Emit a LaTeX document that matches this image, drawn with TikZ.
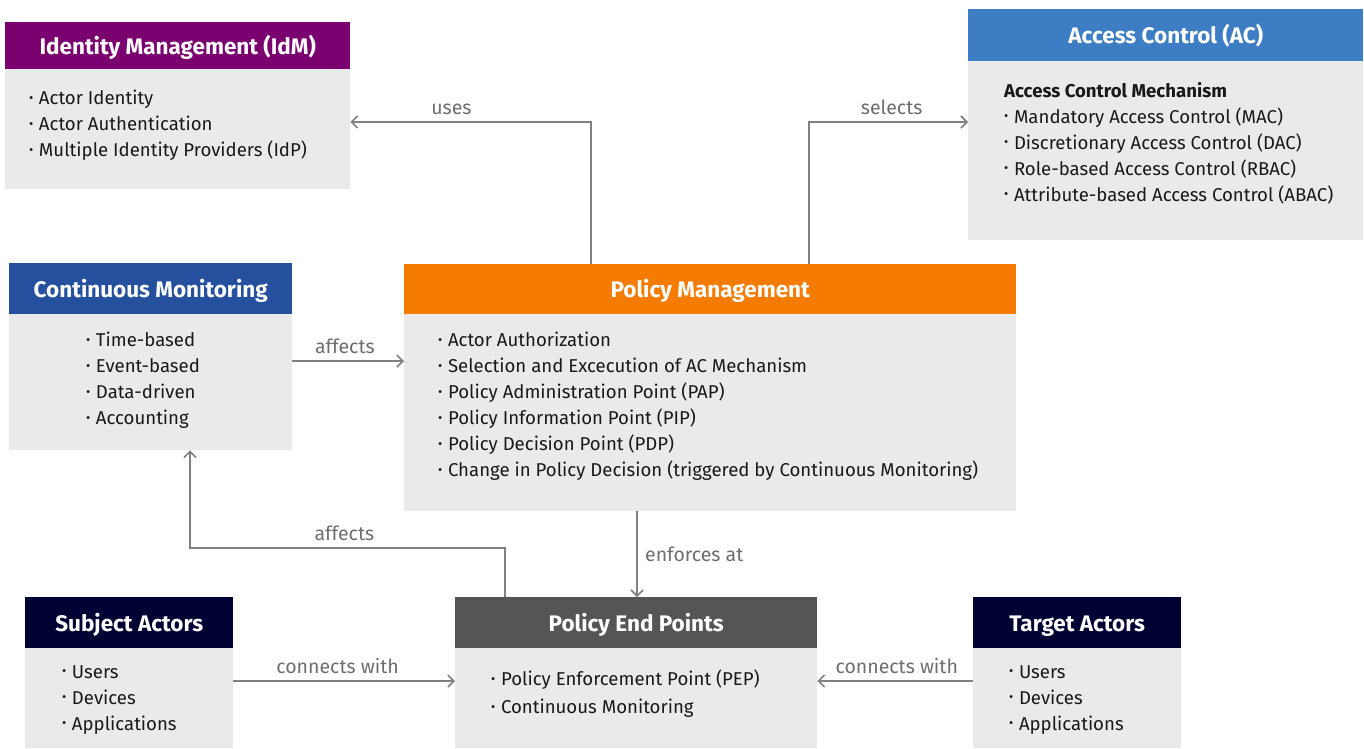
\documentclass[tikz,border=0pt]{standalone}
\usepackage{xcolor}
\usepackage{fontspec}
\setmainfont{Fira Sans}
\usetikzlibrary{arrows.meta, positioning}
\definecolor{idmpurple}{RGB}{122,0,112}
\definecolor{acblue}{RGB}{61,125,196}
\definecolor{cmblue}{RGB}{36,80,158}
\definecolor{pmorange}{RGB}{245,124,0}
\definecolor{actornavy}{RGB}{0,0,51}
\definecolor{pepgray}{RGB}{85,85,85}
\definecolor{boxgray}{RGB}{234,234,234}
\definecolor{linkgray}{RGB}{128,128,128}
\definecolor{taggray}{RGB}{110,110,110}
\newcommand{\itm}{\raisebox{0.25ex}{\scalebox{0.7}{\textbullet}}\hspace{0.3em}}
\tikzset{
    head/.style={rectangle, fill=#1, text=white, anchor=north west, inner sep=0pt, text height=22pt, text depth=5pt, font=\fontsize{22.5}{26}\selectfont\bfseries},
    body/.style={rectangle, fill=boxgray, anchor=north west, inner sep=0pt},
    list/.style={anchor=north west, align=left, inner sep=0pt, text=black!90, font=\fontsize{18.6}{26}\selectfont},
    link/.style={draw=linkgray, line width=1.6pt, -{Straight Barb[length=6pt, width=12pt]}},
    tag/.style={text=taggray, font=\fontsize{19.5}{22}\selectfont}
}
\begin{document}
\begin{tikzpicture}[x=1pt, y=-1pt]
            \useasboundingbox[fill=white] (0,0) rectangle (1364,748);

            % Identity Management
            \node[head=idmpurple, minimum width=345pt, minimum height=47pt] (idmh) at (5,22) {Identity Management (IdM)};
            \node[body, minimum width=345pt, minimum height=120pt] (idm) at (5,69) {};
            \node[list] (idml) at (29,90) {\itm Actor Identity\\ \itm Actor Authentication\\ \itm Multiple Identity Providers (IdP)};

            % Access Control
            \node[head=acblue, minimum width=395pt, minimum height=52pt] (ach) at (968,9) {Access Control (AC)};
            \node[body, minimum width=395pt, minimum height=179pt] (ac) at (968,61) {};
            \node[list] (acl) at (1004,82) {\textbf{Access Control Mechanism}\\ \itm Mandatory Access Control (MAC)\\ \itm Discretionary Access Control (DAC)\\ \itm Role-based Access Control (RBAC)\\ \itm Attribute-based Access Control (ABAC)};

            % Continuous Monitoring
            \node[head=cmblue, minimum width=283pt, minimum height=51pt] (cmh) at (9,263) {Continuous Monitoring};
            \node[body, minimum width=283pt, minimum height=136pt] (cm) at (9,314) {};
            \node[list] (cml) at (86,332) {\itm Time-based\\ \itm Event-based\\ \itm Data-driven\\ \itm Accounting};

            % Policy Management
            \node[head=pmorange, minimum width=612pt, minimum height=50pt] (pmh) at (404,264) {Policy Management};
            \node[body, minimum width=612pt, minimum height=197pt] (pm) at (404,314) {};
            \node[list] (pml) at (438,332) {\itm Actor Authorization\\ \itm Selection and Excecution of AC Mechanism\\ \itm Policy Administration Point (PAP)\\ \itm Policy Information Point (PIP)\\ \itm Policy Decision Point (PDP)\\ \itm Change in Policy Decision (triggered by Continuous Monitoring)};

            % Actors and end points
            \node[head=actornavy, minimum width=208pt, minimum height=51pt] (sah) at (25,597) {Subject Actors};
            \node[body, minimum width=208pt, minimum height=100pt] (sa) at (25,648) {};
            \node[list] (sal) at (62,665) {\itm Users\\ \itm Devices\\ \itm Applications};

            \node[head=pepgray, minimum width=362pt, minimum height=51pt] (peph) at (455,597) {Policy End Points};
            \node[body, minimum width=362pt, minimum height=100pt] (pep) at (455,648) {};
            \node[list, font=\fontsize{18.6}{28}\selectfont] (pepl) at (491,670) {\itm Policy Enforcement Point (PEP)\\ \itm Continuous Monitoring};

            \node[head=actornavy, minimum width=208pt, minimum height=51pt] (tah) at (973,597) {Target Actors};
            \node[body, minimum width=208pt, minimum height=100pt] (ta) at (973,648) {};
            \node[list] (tal) at (1009,665) {\itm Users\\ \itm Devices\\ \itm Applications};

            % Connectors
            \coordinate (usesbend) at (591,122);
            \coordinate (selectsbend) at (809,122);
            \coordinate (affectsbend) at (505,548);
            \coordinate (affectsup) at (190,548);
            \draw[link] (pmh.north -| usesbend) -- (usesbend) -- node[tag, above=3pt, pos=0.58] {uses} (idm.east |- usesbend);
            \draw[link] (pmh.north -| selectsbend) -- (selectsbend) -- node[tag, above=3pt, pos=0.52] {selects} (ac.west |- selectsbend);
            \draw[link] (cm.east |- 0,361) -- node[tag, above=3pt, pos=0.47] {affects} (pm.west |- 0,361);
            \draw[link] (peph.north -| affectsbend) -- (affectsbend) -- node[tag, above=3pt, pos=0.51] {affects} (affectsup) -- (cm.south -| affectsup);
            \draw[link] (pm.south -| 637,0) -- node[tag, right=4pt] {enforces at} (peph.north -| 637,0);
            \draw[link] (sa.east |- 0,681) -- node[tag, above=3pt, pos=0.47] {connects with} (pep.west |- 0,681);
            \draw[link] (ta.west |- 0,681) -- node[tag, above=3pt, pos=0.49] {connects with} (pep.east |- 0,681);
\end{tikzpicture}
\end{document}
